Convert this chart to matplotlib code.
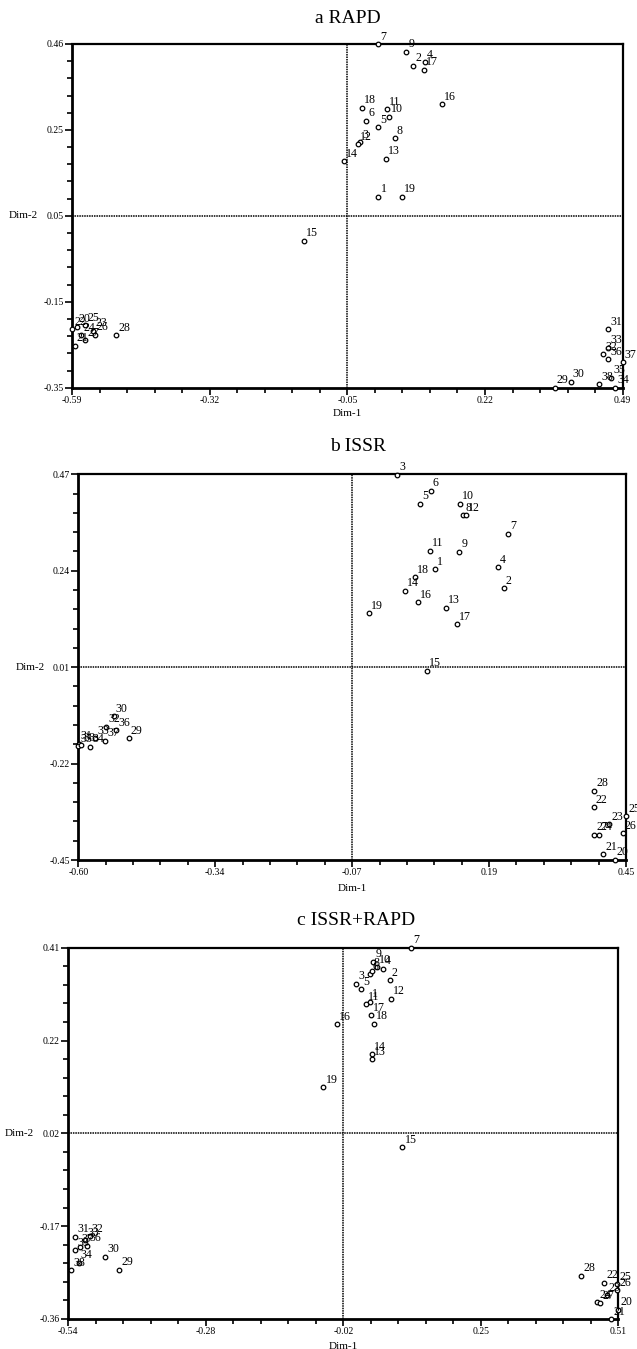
import matplotlib
matplotlib.use("Agg")
from matplotlib import pyplot as plt
import numpy as np

plt.rcParams['font.family'] = ['Liberation Serif', 'DejaVu Serif']

labels = [str(i) for i in range(1, 39)]

# a RAPD
a_x = [0.011, 0.079, -0.0246, 0.102, 0.011, -0.0135, 0.0095, 0.043, 0.066, 0.032,
       0.028, -0.0285, 0.026, -0.057, -0.135, 0.136, 0.100, -0.021, 0.057,
       -0.581, -0.585, -0.59, -0.548, -0.572, -0.564, -0.5455, -0.564, -0.503,
       0.357, 0.388, 0.462, 0.452, 0.462, 0.475, 0.467, 0.462, 0.49, 0.444]
a_y = [0.100, 0.409, 0.228, 0.417, 0.264, 0.279, 0.46, 0.238, 0.442, 0.289,
       0.307, 0.224, 0.190, 0.184, -0.004, 0.318, 0.399, 0.310, 0.100,
       -0.206, -0.251, -0.212, -0.216, -0.226, -0.202, -0.225, -0.238, -0.226,
       -0.35, -0.336, -0.2125, -0.271, -0.256, -0.35, -0.326, -0.283, -0.2895, -0.342]
a_xticks = ['-0.59', '-0.32', '-0.05', '0.22', '0.49']
a_yticks = ['-0.35', '-0.15', '0.05', '0.25', '0.46']

# b ISSR
b_x = [0.084, 0.2155, 0.011, 0.204, 0.055, 0.0755, 0.224, 0.1375, 0.130, 0.132,
       0.074, 0.144, 0.104, 0.026, 0.069, 0.051, 0.1265, 0.046, -0.043,
       0.428, 0.4065, 0.388, 0.418, 0.398, 0.45, 0.444, 0.389, 0.389,
       -0.503, -0.532, -0.599, -0.547, -0.568, -0.577, -0.60, -0.528, -0.549, -0.595]
b_y = [0.243, 0.199, 0.469, 0.248, 0.400, 0.431, 0.328, 0.373, 0.285, 0.400,
       0.288, 0.373, 0.152, 0.192, 0.002, 0.165, 0.112, 0.224, 0.1385,
       -0.449, -0.436, -0.324, -0.365, -0.390, -0.345, -0.386, -0.390, -0.285,
       -0.159, -0.1065, -0.173, -0.132, -0.160, -0.180, -0.178, -0.140, -0.165, -0.176]
b_xticks = ['-0.60', '-0.34', '-0.07', '0.19', '0.45']
b_yticks = ['-0.45', '-0.22', '0.01', '0.24', '0.47']

# c ISSR+RAPD
c_x = [0.036, 0.0735, 0.009, 0.061, 0.019, 0.036, 0.114, 0.039, 0.042, 0.049,
       0.028, 0.076, 0.040, 0.039, 0.098, -0.027, 0.038, 0.043, -0.053,
       0.51, 0.497, 0.483, 0.488, 0.47, 0.508, 0.508, 0.476, 0.439,
       -0.443, -0.47, -0.527, -0.499, -0.508, -0.52, -0.527, -0.504, -0.518, -0.534]
c_y = [0.298, 0.343, 0.335, 0.3665, 0.324, 0.355, 0.41, 0.362, 0.381, 0.369,
       0.293, 0.304, 0.1785, 0.1895, -0.004, 0.251, 0.270, 0.252, 0.1205,
       -0.341, -0.36, -0.285, -0.31, -0.325, -0.288, -0.300, -0.327, -0.270,
       -0.258, -0.231, -0.189, -0.188, -0.196, -0.243, -0.2176, -0.208, -0.210, -0.259]
c_xticks = ['-0.54', '-0.28', '-0.02', '0.25', '0.51']
c_yticks = ['-0.36', '-0.17', '0.02', '0.22', '0.41']

panels = [
    ('a RAPD', a_x, a_y, a_xticks, a_yticks,
     [72 / 637, 1 - 387.7 / 1349, 550.7 / 637, 343.7 / 1349], 0.50),
    ('b ISSR', b_x, b_y, b_xticks, b_yticks,
     [78.3 / 637, 1 - 860 / 1349, 547.7 / 637, 385.7 / 1349], 0.51),
    ('c ISSR+RAPD', c_x, c_y, c_xticks, c_yticks,
     [68.3 / 637, 1 - 1319 / 1349, 550 / 637, 371.3 / 1349], 0.523),
]

fig = plt.figure(figsize=(6.37, 13.49), dpi=100)

for title, xs, ys, xt, yt, rect, tx in panels:
    ax = fig.add_axes(rect)
    x0, x1 = float(xt[0]), float(xt[-1])
    y0, y1 = float(yt[0]), float(yt[-1])
    ax.set_xlim(x0, x1)
    ax.set_ylim(y0, y1)
    xmaj = np.linspace(x0, x1, 5)
    ymaj = np.linspace(y0, y1, 5)
    ax.set_xticks(xmaj)
    ax.set_xticklabels(xt)
    ax.set_yticks(ymaj)
    ax.set_yticklabels(yt)
    ax.set_xticks(np.linspace(x0, x1, 21), minor=True)
    ax.set_yticks(np.linspace(y0, y1, 21), minor=True)
    ax.tick_params(which='major', direction='out', length=5, width=1.2,
                   labelsize=7, pad=1)
    ax.tick_params(which='minor', direction='out', length=3.5, width=1.2)

    # dotted cross lines at the middle ticks
    ax.axvline(xmaj[2], color='black', lw=1.1, ls=(0, (1, 0.6)), zorder=1)
    ax.axhline(ymaj[2], color='black', lw=1.1, ls=(0, (1, 0.6)), zorder=1)

    for side in ['left', 'bottom']:
        ax.spines[side].set_linewidth(2)
    for side in ['top', 'right']:
        ax.spines[side].set_linewidth(1.6)

    ax.plot(xs, ys, 'o', ms=3.3, mfc='white', mec='black', mew=0.9,
            clip_on=False, zorder=3)
    for lab, x, y in zip(labels, xs, ys):
        ax.annotate(lab, (x, y), xytext=(1.5, 1), textcoords='offset points',
                    ha='left', va='bottom', fontsize=8.6, annotation_clip=False)

    ax.text(tx, 1.05, title, transform=ax.transAxes, ha='center',
            va='bottom', fontsize=14)
    ax.text(-0.115, 0.5, 'Dim-2', transform=ax.transAxes, ha='left',
            va='center', fontsize=8)
    ax.text(0.5, -0.075, 'Dim-1', transform=ax.transAxes, ha='center',
            va='center', fontsize=8)

fig.savefig('out.png', dpi=100)
